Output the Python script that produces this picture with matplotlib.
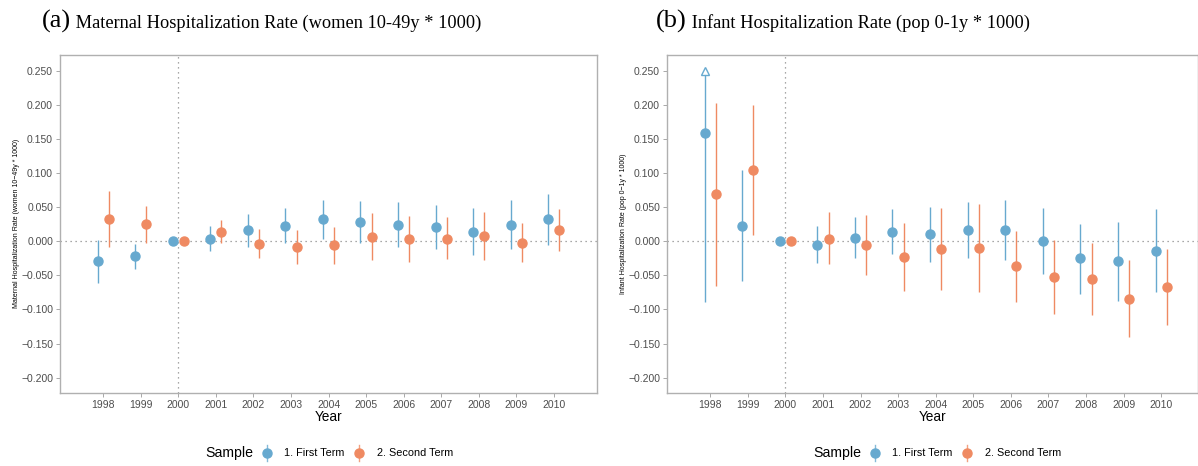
import numpy as np
import matplotlib.pyplot as plt
from matplotlib.lines import Line2D

# --------------------------------------------------
# event-study estimates (point, lower CI, upper CI)
# --------------------------------------------------
years = np.arange(1998, 2011)

# (a) maternal hospitalization rate
mat_first = [-0.029, -0.022, 0.0, 0.004, 0.016, 0.023, 0.032, 0.028, 0.024, 0.021, 0.014, 0.024, 0.032]
mat_first_lo = [-0.061, -0.040, 0.0, -0.014, -0.009, -0.003, 0.003, -0.003, -0.008, -0.012, -0.020, -0.012, -0.006]
mat_first_hi = [0.002, -0.004, 0.0, 0.022, 0.040, 0.049, 0.061, 0.059, 0.057, 0.053, 0.049, 0.061, 0.069]

mat_second = [0.033, 0.025, 0.0, 0.014, -0.004, -0.008, -0.005, 0.006, 0.003, 0.004, 0.007, -0.003, 0.017]
mat_second_lo = [-0.008, -0.002, 0.0, -0.002, -0.024, -0.033, -0.033, -0.028, -0.031, -0.026, -0.028, -0.031, -0.015]
mat_second_hi = [0.073, 0.051, 0.0, 0.031, 0.018, 0.016, 0.021, 0.041, 0.037, 0.035, 0.043, 0.027, 0.048]

# (b) infant hospitalization rate
inf_first = [0.158, 0.023, 0.0, -0.005, 0.005, 0.014, 0.010, 0.016, 0.016, 0.000, -0.025, -0.029, -0.014]
inf_first_lo = [-0.089, -0.058, 0.0, -0.032, -0.025, -0.019, -0.030, -0.025, -0.028, -0.048, -0.077, -0.087, -0.075]
inf_first_hi = [0.250, 0.105, 0.0, 0.023, 0.036, 0.047, 0.050, 0.058, 0.060, 0.049, 0.026, 0.028, 0.048]
inf_first_cut = [1998]  # upper bound beyond the plotted range

inf_second = [0.069, 0.104, 0.0, 0.004, -0.005, -0.023, -0.011, -0.010, -0.037, -0.052, -0.055, -0.084, -0.067]
inf_second_lo = [-0.066, 0.009, 0.0, -0.034, -0.050, -0.073, -0.072, -0.074, -0.089, -0.106, -0.108, -0.140, -0.123]
inf_second_hi = [0.203, 0.200, 0.0, 0.043, 0.039, 0.027, 0.049, 0.054, 0.015, 0.002, -0.003, -0.028, -0.012]

yticks = [0.25, 0.2, 0.15, 0.1, 0.05, 0.0, -0.05, -0.1, -0.15, -0.2]
sample_labels = ["1. First Term", "2. Second Term"]

BLUE = "#67a9cf"
ORANGE = "#ef8a62"
GREY = "#4d4d4d"
DODGE = 0.15
W, H = 1198, 466

plt.rcParams["font.family"] = ["Liberation Sans", "DejaVu Sans"]

fig = plt.figure(figsize=(W / 100, H / 100), dpi=100)
ax1 = fig.add_axes([60 / W, 1 - 392.7 / H, 537 / W, 337.7 / H])
ax2 = fig.add_axes([667 / W, 1 - 392.7 / H, 531 / W, 337.7 / H])


def draw_series(ax, est, lo, hi, shift, color):
    est, lo, hi = map(np.asarray, (est, lo, hi))
    x = years + shift
    err = np.vstack([est - lo, hi - est])
    ax.errorbar(x, est, yerr=err, fmt="o", color=color, ms=6.5,
                elinewidth=1.0, capsize=0, mec=color, zorder=3)


def style_panel(ax, ylabel, xmax):
    ax.axhline(0, color="#8c8c8c", lw=0.9, ls=(0, (1, 3)), zorder=1)
    ax.axvline(2000, color="#8c8c8c", lw=0.9, ls=(0, (1, 3)), zorder=1)
    ax.set_xlim(1996.85, xmax)
    ax.set_ylim(-0.222, 0.273)
    ax.set_xticks(years)
    ax.set_xticklabels([str(y) for y in years])
    ax.set_yticks(yticks)
    ax.set_yticklabels([f"{v:.3f}".replace("-", "\u2212") for v in yticks])
    ax.tick_params(length=3, width=0.6, color="#9a9a9a", labelsize=7.5,
                   labelcolor=GREY, pad=2)
    for s in ax.spines.values():
        s.set_color("#b0b0b0")
        s.set_linewidth(1.0)
    ax.set_xlabel("Year", fontsize=9.8, color="black", labelpad=0)
    ax.set_ylabel(ylabel, fontsize=5, color="black", labelpad=1)


style_panel(ax1, "Maternal Hospitalization Rate (women 10\u221249y * 1000)", 2011.15)
style_panel(ax2, "Infant Hospitalization Rate (pop 0\u22121y * 1000)", 2010.98)

draw_series(ax1, mat_first, mat_first_lo, mat_first_hi, -DODGE, BLUE)
draw_series(ax1, mat_second, mat_second_lo, mat_second_hi, DODGE, ORANGE)
draw_series(ax2, inf_first, inf_first_lo, inf_first_hi, -DODGE, BLUE)
draw_series(ax2, inf_second, inf_second_lo, inf_second_hi, DODGE, ORANGE)

# truncated upper bound marker
for yr in inf_first_cut:
    i = list(years).index(yr)
    ax2.plot(yr - DODGE, inf_first_hi[i], marker="^", ms=6, mfc="white",
             mec=BLUE, mew=1.0, ls="none", zorder=4, clip_on=False)

# panel titles: bigger tag followed by the title text
fig.canvas.draw()
r = fig.canvas.get_renderer()
for xc, tag, text in [(262, "(a)", " Maternal Hospitalization Rate (women 10-49y * 1000)"),
                      (843, "(b)", " Infant Hospitalization Rate (pop 0-1y * 1000)")]:
    tt = fig.text(0, 1 - 28 / H, tag, fontsize=19, family="Liberation Serif",
                  va="baseline")
    tm = fig.text(0, 1 - 28 / H, text, fontsize=13.2, family="Liberation Serif",
                  va="baseline")
    w1 = tt.get_window_extent(r).width
    w2 = tm.get_window_extent(r).width
    x0 = xc - (w1 + w2) / 2
    tt.set_x(x0 / W)
    tm.set_x((x0 + w1) / W)

# legend under each panel (point-range keys)
ly = 1 - 453 / H
for xs in (205, 813):
    fig.text(xs / W, ly, "Sample", fontsize=10.2, va="center", color="black")
    offsets = [(62, 79), (154, 172)]
    for (dk, dt), color, label in zip(offsets, (BLUE, ORANGE), sample_labels):
        kx = (xs + dk) / W
        fig.add_artist(Line2D([kx, kx], [ly - 8 / H, ly + 8 / H], color=color,
                              lw=1.0, alpha=0.8))
        fig.add_artist(Line2D([kx], [ly], marker="o", ms=6.5, color=color,
                              mec=color, ls="none"))
        fig.text((xs + dt) / W, ly, label, fontsize=7.8, va="center",
                 color="black")

fig.savefig("out.png", dpi=100)
